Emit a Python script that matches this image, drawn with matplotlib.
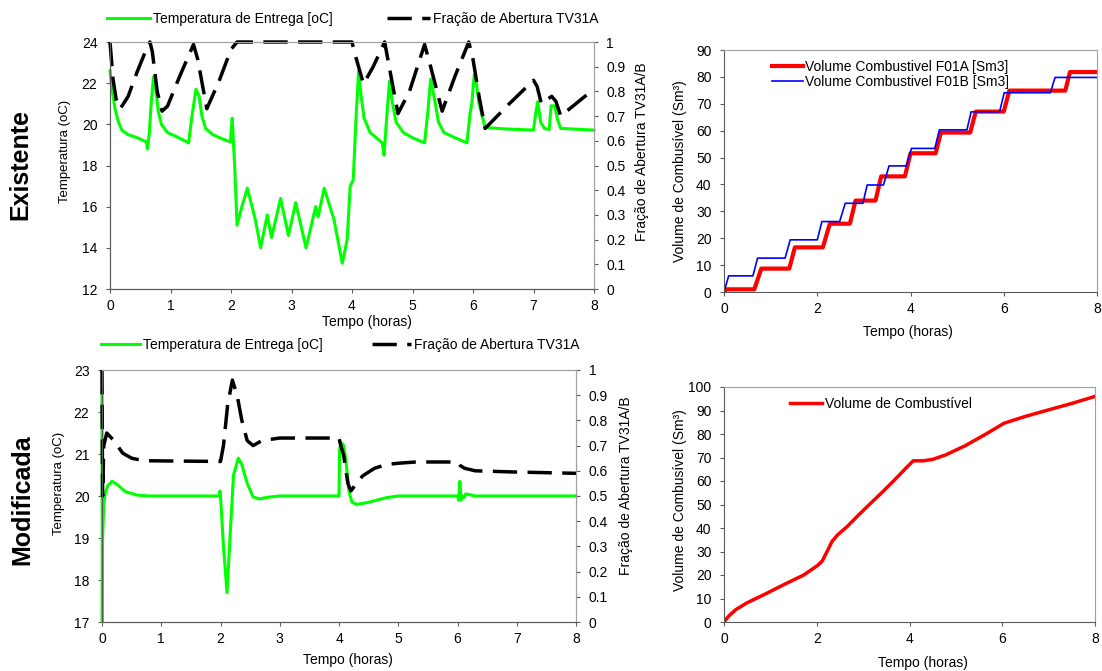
import matplotlib
matplotlib.use("Agg")
import matplotlib.pyplot as plt
from matplotlib.ticker import FormatStrFormatter, FuncFormatter

plt.rcParams['font.family'] = ['Liberation Sans', 'DejaVu Sans']

# ---------------- data ----------------
# Existente: temperature (oC)
t_temp_ex = [0, 0.03, 0.08, 0.14, 0.2, 0.3, 0.45, 0.6, 0.62, 0.65, 0.68, 0.72, 0.76, 0.8, 0.85, 0.95,
             1.1, 1.3, 1.35, 1.42, 1.47, 1.52, 1.58, 1.7, 1.85, 1.99, 2.02, 2.06, 2.1, 2.18, 2.27, 2.4,
             2.49, 2.6, 2.67, 2.82, 2.95, 3.07, 3.24, 3.4, 3.44, 3.54, 3.7, 3.84, 3.92, 3.97, 4.02,
             4.07, 4.11, 4.15, 4.2, 4.3, 4.42, 4.5, 4.53, 4.57, 4.62, 4.67, 4.73, 4.85, 5.0, 5.2,
             5.25, 5.3, 5.36, 5.43, 5.52, 5.7, 5.9, 5.95, 5.98, 6.02, 6.06, 6.1, 6.2, 6.5, 7.0,
             7.04, 7.07, 7.12, 7.18, 7.26, 7.29, 7.35, 7.4, 7.45, 7.6, 8.0]
temp_ex = [22.6, 21.8, 20.8, 20.1, 19.7, 19.5, 19.35, 19.15, 18.8, 19.6, 21.0, 22.3, 21.6, 20.6, 20.0, 19.6,
           19.4, 19.1, 20.3, 21.7, 21.4, 20.4, 19.8, 19.5, 19.3, 19.15, 20.3, 18.0, 15.1, 16.0, 16.9, 15.4,
           14.0, 15.6, 14.5, 16.4, 14.6, 16.2, 14.0, 16.0, 15.5, 16.9, 15.4, 13.25, 14.4, 17.0, 17.3,
           20.5, 22.6, 21.4, 20.3, 19.6, 19.3, 19.1, 18.5, 20.2, 22.1, 21.0, 20.1, 19.6, 19.35, 19.1,
           20.5, 22.2, 21.3, 20.1, 19.6, 19.35, 19.1, 20.5, 21.0, 22.4, 21.9, 21.0, 19.85, 19.78, 19.72,
           20.6, 21.1, 20.1, 19.8, 19.75, 20.9, 20.9, 20.2, 19.8, 19.78, 19.72]

# Existente: valve opening fraction
t_frac_ex = [0, 0.05, 0.1, 0.17, 0.3, 0.45, 0.6, 0.66, 0.7, 0.78, 0.86, 0.95, 1.15, 1.38, 1.45, 1.6,
             1.8, 2.0, 2.1, 4.0, 4.05, 4.19, 4.35, 4.54, 4.6, 4.76, 4.95, 5.2, 5.3, 5.49, 5.7, 5.93,
             6.0, 6.1, 6.2, 6.6, 7.0, 7.06, 7.13, 7.3, 7.37, 7.45, 8.0]
frac_ex = [1.0, 0.85, 0.77, 0.73, 0.78, 0.88, 0.97, 1.0, 0.96, 0.8, 0.72, 0.74, 0.86, 0.99, 0.93, 0.73,
           0.84, 0.97, 1.0, 1.0, 0.95, 0.83, 0.9, 1.0, 0.92, 0.71, 0.8, 0.99, 0.9, 0.72, 0.86, 1.0,
           0.93, 0.78, 0.65, 0.75, 0.845, 0.82, 0.75, 0.78, 0.76, 0.7, 0.81]

# Existente: fuel volumes (Sm3)
t_vol_a = [0, 0.05, 0.65, 0.8, 1.4, 1.52, 2.12, 2.27, 2.7, 2.82, 3.25, 3.37, 3.88, 4.0, 4.54, 4.65,
           5.28, 5.4, 6.0, 6.12, 7.32, 7.42, 8.0]
vol_a = [0, 1, 1, 8.7, 8.7, 16.6, 16.6, 25.4, 25.4, 34.0, 34.0, 43.0, 43.0, 51.6, 51.6, 59.3,
         59.3, 67.1, 67.1, 74.9, 74.9, 81.8, 81.8]
t_vol_b = [0, 0.1, 0.62, 0.72, 1.31, 1.42, 2.0, 2.1, 2.48, 2.6, 2.98, 3.07, 3.42, 3.54, 3.91, 4.02,
           4.52, 4.62, 5.21, 5.3, 5.91, 6.01, 7.0, 7.1, 8.0]
vol_b = [0, 6.0, 6.0, 12.6, 12.6, 19.4, 19.4, 26.2, 26.2, 33.0, 33.0, 39.8, 39.8, 46.9, 46.9, 53.4,
         53.4, 60.3, 60.3, 67.0, 67.0, 74.1, 74.1, 79.8, 79.8]

# Modificada: temperature (oC)
t_temp_mod = [0, 0.005, 0.01, 0.03, 0.06, 0.1, 0.17, 0.25, 0.4, 0.6, 0.8, 1.98, 1.99, 2.0, 2.05, 2.11,
              2.16, 2.22, 2.3, 2.36, 2.45, 2.55, 2.65, 2.8, 3.0, 4.0, 4.01, 4.03, 4.08, 4.12, 4.17,
              4.22, 4.3, 4.5, 4.8, 5.0, 6.0, 6.02, 6.04, 6.06, 6.08, 6.1, 6.14, 6.3, 8.0]
temp_mod = [22.5, 17.0, 19.0, 19.8, 20.1, 20.25, 20.35, 20.28, 20.1, 20.02, 20.0, 20.0, 20.12, 20.0, 18.8, 17.7,
            19.0, 20.5, 20.9, 20.75, 20.3, 19.98, 19.93, 19.97, 20.0, 20.0, 21.1, 21.28, 21.2, 20.8, 20.1,
            19.85, 19.8, 19.85, 19.96, 20.0, 20.0, 19.9, 20.35, 19.9, 20.0, 19.95, 20.05, 20.0, 20.0]

# Modificada: valve opening fraction
t_frac_mod = [0, 0.01, 0.03, 0.08, 0.2, 0.35, 0.5, 0.7, 2.0, 2.05, 2.12, 2.2, 2.28, 2.36, 2.45, 2.55,
              2.7, 3.0, 4.0, 4.02, 4.08, 4.15, 4.2, 4.28, 4.4, 4.6, 4.8, 5.0, 5.3, 6.0, 6.05, 6.12,
              6.3, 7.0, 8.0]
frac_mod = [1.0, 0.5, 0.7, 0.75, 0.72, 0.67, 0.65, 0.64, 0.637, 0.7, 0.86, 0.96, 0.9, 0.8, 0.72, 0.70,
            0.72, 0.73, 0.73, 0.71, 0.66, 0.55, 0.52, 0.545, 0.58, 0.61, 0.625, 0.63, 0.635, 0.635, 0.62, 0.61,
            0.6, 0.595, 0.59]

# Modificada: fuel volume (Sm3)
t_vol_mod = [0, 0.1, 0.25, 0.5, 0.9, 1.3, 1.72, 2.02, 2.12, 2.22, 2.33, 2.45, 2.65, 2.9, 3.13, 3.4,
             3.65, 3.9, 4.08, 4.3, 4.5, 4.78, 5.2, 5.65, 6.04, 6.5, 6.95, 7.5, 8.0]
vol_mod = [0, 2.5, 5.2, 8.2, 12.0, 16.0, 20.0, 24.1, 26.0, 29.9, 34.3, 37.1, 40.5, 45.5, 49.9, 55.0,
           59.9, 65.0, 68.6, 68.6, 69.2, 71.1, 75.0, 80.0, 84.6, 87.5, 90.0, 93.0, 96.0]

lbl_temp = 'Temperatura de Entrega [oC]'
lbl_frac = 'Fração de Abertura TV31A'
lbl_vol_a = 'Volume Combustivel F01A [Sm3]'
lbl_vol_b = 'Volume Combustivel F01B [Sm3]'
lbl_vol = 'Volume de Combustível'

# ---------------- styling ----------------
GREEN = '#00ff00'
DARK = '#5a5a5a'
LIGHT = '#a0a0a0'
W, H = 1102, 671
fig = plt.figure(figsize=(W / 100, H / 100), dpi=100)


def px_axes(l, t, r, b):
    return fig.add_axes([l / W, 1 - b / H, (r - l) / W, (b - t) / H])


def style(ax, right=False):
    for s in ('left', 'bottom'):
        ax.spines[s].set_color(DARK)
    for s in ('top', 'right'):
        ax.spines[s].set_color(LIGHT)
    ax.tick_params(direction='out', length=3, width=0.8, colors=DARK, labelcolor='black',
                   labelsize=10, pad=4)
    ax.tick_params(axis='y', pad=6)


dash = (7, 3)

# ---- Top-left: Existente temperature / fraction
ax1 = px_axes(110, 42, 594, 289)
ax1b = ax1.twinx()
ax1.plot(t_temp_ex, temp_ex, color=GREEN, lw=2.2, label=lbl_temp, clip_on=False, zorder=3)
ax1b.plot(t_frac_ex, frac_ex, color='black', lw=2.5, dashes=dash, label=lbl_frac, clip_on=False)
ax1.set_xlim(0, 8)
ax1.set_ylim(12, 24)
ax1.set_xticks(range(0, 9))
ax1.set_yticks(range(12, 25, 2))
ax1b.set_ylim(0, 1)
ax1b.set_yticks([i / 10 for i in range(11)])
ax1b.yaxis.set_major_formatter(FuncFormatter(lambda v, p: f'{v:g}'))
style(ax1); style(ax1b)
ax1b.spines['right'].set_color(LIGHT)
ax1.set_ylabel('Temperatura (oC)', fontsize=9.5, va='center', ha='center')
ax1.yaxis.set_label_coords(-0.093, 0.555)
ax1b.set_ylabel('Fração de Abertura TV31A/B', fontsize=10, va='center', ha='center')
ax1b.yaxis.set_label_coords(1.099, 0.555)
ax1.set_xlabel('Tempo (horas)', fontsize=10, va='center', ha='center')
ax1.xaxis.set_label_coords(0.531, -0.134)
h1, l1 = ax1.get_legend_handles_labels()
h2, l2 = ax1b.get_legend_handles_labels()
fig.legend(h1 + h2, l1 + l2, loc='center left', bbox_to_anchor=(107 / W, 1 - 19 / H), ncol=2,
           frameon=False, fontsize=10, handlelength=3.1, handletextpad=0.2, columnspacing=3.9,
           borderpad=0, borderaxespad=0)

# ---- Top-right: Existente volumes
ax2 = px_axes(724, 50, 1097, 292)
ax2.plot(t_vol_a, vol_a, color='red', lw=3, label=lbl_vol_a)
ax2.plot(t_vol_b, vol_b, color='blue', lw=1.2, label=lbl_vol_b)
ax2.set_xlim(0, 8)
ax2.set_ylim(0, 90)
ax2.set_xticks(range(0, 9, 2))
ax2.set_yticks(range(0, 91, 10))
style(ax2)
ax2.set_ylabel('Volume de Combusível (Sm³)', fontsize=10, va='center', ha='center')
ax2.yaxis.set_label_coords(-0.118, 0.5)
ax2.set_xlabel('Tempo (horas)', fontsize=10, va='center', ha='center')
ax2.xaxis.set_label_coords(0.493, -0.165)
ax2.legend(loc='center left', bbox_to_anchor=(772 / W, 1 - 74.5 / H), bbox_transform=fig.transFigure,
           frameon=False, fontsize=10, handlelength=2.2, handletextpad=0.2, labelspacing=0.1,
           borderpad=0, borderaxespad=0)

# ---- Bottom-left: Modificada temperature / fraction
ax3 = px_axes(102, 370, 576, 622)
ax3b = ax3.twinx()
ax3.plot(t_temp_mod, temp_mod, color=GREEN, lw=2.2, label=lbl_temp, clip_on=False, zorder=3)
ax3b.plot(t_frac_mod, frac_mod, color='black', lw=2.5, dashes=dash, label=lbl_frac, clip_on=False)
ax3.set_xlim(0, 8)
ax3.set_ylim(17, 23)
ax3.set_xticks(range(0, 9))
ax3.set_yticks(range(17, 24))
ax3b.set_ylim(0, 1)
ax3b.set_yticks([i / 10 for i in range(11)])
ax3b.yaxis.set_major_formatter(FuncFormatter(lambda v, p: f'{v:g}'))
style(ax3); style(ax3b)
ax3.set_ylabel('Temperatura (oC)', fontsize=9.5, va='center', ha='center')
ax3.yaxis.set_label_coords(-0.091, 0.548)
ax3b.set_ylabel('Fração de Abertura TV31A/B', fontsize=10, va='center', ha='center')
ax3b.yaxis.set_label_coords(1.105, 0.54)
ax3.set_xlabel('Tempo (horas)', fontsize=10, va='center', ha='center')
ax3.xaxis.set_label_coords(0.519, -0.151)
h1, l1 = ax3.get_legend_handles_labels()
h2, l2 = ax3b.get_legend_handles_labels()
fig.legend(h1 + h2, l1 + l2, loc='center left', bbox_to_anchor=(101 / W, 1 - 345 / H), ncol=2,
           frameon=False, fontsize=10, handlelength=2.8, handletextpad=0.2, columnspacing=3.6,
           borderpad=0, borderaxespad=0)

# ---- Bottom-right: Modificada volume
ax4 = px_axes(724, 387, 1095, 622)
ax4.plot(t_vol_mod, vol_mod, color='red', lw=2.5, label=lbl_vol)
ax4.set_xlim(0, 8)
ax4.set_ylim(0, 100)
ax4.set_xticks(range(0, 9, 2))
ax4.set_yticks(range(0, 101, 10))
style(ax4)
ax4.set_ylabel('Volume de Combusível (Sm³)', fontsize=10, va='center', ha='center')
ax4.yaxis.set_label_coords(-0.119, 0.519)
ax4.set_xlabel('Tempo (horas)', fontsize=10, va='center', ha='center')
ax4.xaxis.set_label_coords(0.536, -0.174)
ax4.legend(loc='center left', bbox_to_anchor=(790 / W, 1 - 404 / H), bbox_transform=fig.transFigure,
           frameon=False, fontsize=10, handlelength=2.3, handletextpad=0.2,
           borderpad=0, borderaxespad=0)

# ---- Row labels
fig.text(20 / W, 1 - 164 / H, 'Existente', rotation=90, fontsize=18, fontweight='bold',
         ha='center', va='center')
fig.text(22 / W, 1 - 500 / H, 'Modificada', rotation=90, fontsize=18, fontweight='bold',
         ha='center', va='center')

fig.savefig('out.png', dpi=100)
